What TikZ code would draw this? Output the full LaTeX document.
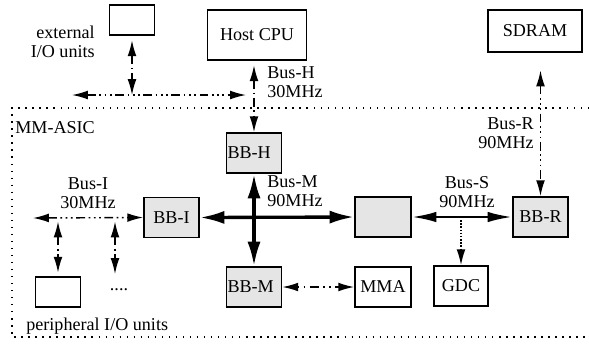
\documentclass[tikz,border=0pt]{standalone}
\usepackage{fontspec}
\setmainfont{Liberation Serif}
\usetikzlibrary{arrows.meta,positioning}

\begin{document}
\begin{tikzpicture}
[x=0.02cm,y=-0.02cm,
font=\fontsize{10.3}{11}\selectfont,
%
unit/.style={shape=rectangle,draw=black,line width=1pt,inner sep=0pt},
block/.style={unit,fill=black!10,minimum width=1.1cm,minimum height=0.8cm},
leftblock/.style={block,text width=1.06cm,align=left,inner xsep=0.5pt},
txt/.style={inner sep=0pt},
%
iobus/.style={thick,{Latex[length=9pt,width=5pt]}-{Latex[length=9pt,width=5pt]}},
dashdot/.style={dash pattern=on 5pt off 2pt on 1pt off 2pt},
dashdotdot/.style={dash pattern=on 5pt off 2pt on 1pt off 2pt on 1pt off 2pt on 1pt off 2pt},
dotdash/.style={dash pattern=on 1pt off 2.5pt on 1pt off 2.5pt on 5pt off 2.5pt},
mbus/.style={line width=1.9pt,{Latex[length=14pt,width=7.5pt]}-{Latex[length=14pt,width=7.5pt]}},
sbus/.style={line width=1.4pt,{Latex[length=14pt,width=6pt]}-{Latex[length=14pt,width=6pt]}},
chipedge/.style={line width=0.8pt,dash pattern=on 0.8pt off 3.2pt}]
%
\useasboundingbox (0,0) rectangle (589,343);
%
% off-chip units
\node (extio) [unit,minimum width=0.9cm,minimum height=0.6cm] at (132,20) {};
\node (extlabel) [txt,anchor=east,align=right] at (95,42) {external\\I/O units};
\node (host) [unit,minimum width=1.98cm,minimum height=1cm] at (257,35) {Host CPU};
\node (sdram) [unit,minimum width=1.88cm,minimum height=0.84cm] at (535,31) {SDRAM};
%
% chip boundary
\draw[chipedge] (589,108) -- (12,108) -- (12,337) -- (589,337);
\node (asic) [txt,anchor=west] at (15,128) {MM-ASIC};
%
% bridge blocks
\node (bbh) [leftblock] at (254,153) {BB-H};
\node (bbm) [leftblock] at (254,287) {BB-M};
\node (bbi) [block] at (171.5,217.5) {BB-I};
\node (bbs) [block,minimum width=1.12cm] at (383,217) {};
\node (bbr) [block] at (540.5,217) {BB-R};
%
% on-chip units
\node (mma) [unit,minimum width=1.12cm,minimum height=0.8cm] at (383,287) {MMA};
\node (gdc) [unit,minimum width=1.08cm,minimum height=0.8cm] at (461,286) {GDC};
%
% peripheral side
\node (periph) [unit,minimum width=0.9cm,minimum height=0.6cm] at (58,292) {};
\node (more) [txt] at (119,290) {....};
\node (perilabel) [txt,anchor=west] at (26,326) {peripheral I/O units};
%
% bus labels
\node (busH) [txt,anchor=west,align=left] at (267,82) {Bus-H\\30MHz};
\node (busR) [txt,anchor=east,align=right] at (534,133) {Bus-R\\90MHz};
\node (busM) [txt,anchor=west,align=left] at (267,191) {Bus-M\\90MHz};
\node (busS) [txt,align=center] at (467,192) {Bus-S\\90MHz};
\node (busI) [txt,align=center] at (88,193) {Bus-I\\30MHz};
%
% external I/O bus
\coordinate (extL) at (72,95);
\coordinate (extR) at (246,95);
\coordinate (exthub) at (extio.south |- extL);
\draw[iobus,dashdotdot] (extL) -- (extR);
\draw[iobus,dashdot,shorten <=2.5pt] (extio.south) -- (exthub);
%
% host and memory buses
\draw[iobus,dashdot,shorten <=2.5pt] (bbh.north |- host.south) -- (bbh.north);
\draw[iobus,dashdotdot,shorten <=10pt] (bbr.north |- sdram.south) -- (bbr.north);
%
% Bus-M and Bus-S
\draw[mbus] (bbi.east) -- (bbs.west);
\draw[mbus] (bbh.south) -- (bbm.north);
\draw[sbus] (bbs.east) -- (bbr.west);
\coordinate (gtap) at (gdc.north |- bbs.east);
\draw[thick,densely dotted,-{Latex[length=9pt,width=5pt]}] (gtap) -- (gdc.north);
\draw[iobus,dotdash] (bbm.east) -- (mma.west);
%
% Bus-I and peripherals
\coordinate (iL) at (33,218);
\draw[iobus,dashdotdot] (iL) -- (bbi.west);
\coordinate (tap1) at (periph.north |- iL);
\coordinate (tap2) at (115,218);
\coordinate (tap2end) at (115,274);
\draw[iobus,dashdot,shorten <=2pt,shorten >=2pt] (tap1) -- (periph.north);
\draw[iobus,dashdot,shorten <=2pt] (tap2) -- (tap2end);
\end{tikzpicture}
\end{document}
